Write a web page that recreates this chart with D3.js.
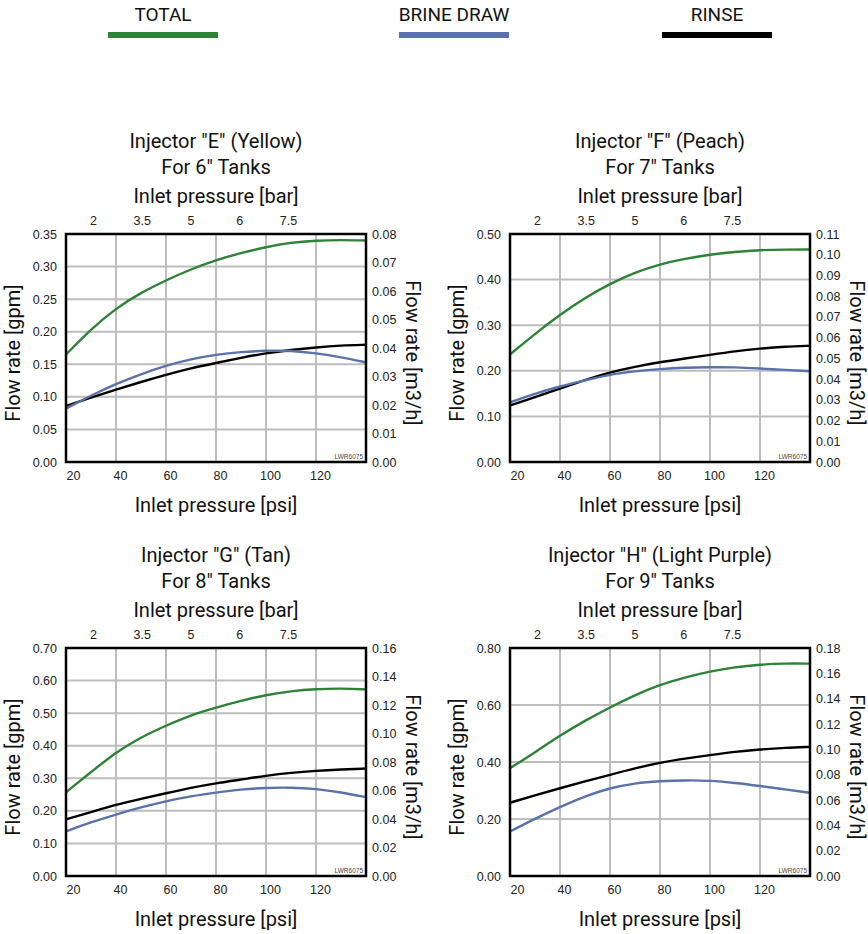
<!DOCTYPE html>
<html>
<head>
<meta charset="utf-8">
<script src="https://cdn.jsdelivr.net/npm/d3@7"></script>
<style>
  body { margin: 0; background: #fff; }
  svg { display: block; }
</style>
</head>
<body>
<svg id="svg" width="868" height="934"></svg>
<script>
// inlet pressure samples (psi) used by every curve
var psi = [20, 30, 40, 50, 60, 70, 80, 90, 100, 110, 120, 130, 140];
var psiTicks = [20, 40, 60, 80, 100, 120];
var barTicks = ["2", "3.5", "5", "6", "7.5"];

var seriesNames = ["TOTAL", "BRINE DRAW", "RINSE"];
var seriesColors = ["#2e8236", "#5a72aa", "#000000"];

// Injector "E"
var totalE = [0.165, 0.204, 0.236, 0.260, 0.279, 0.296, 0.310, 0.321, 0.330, 0.337, 0.340, 0.341, 0.340];
var brineE = [0.082, 0.102, 0.120, 0.135, 0.148, 0.158, 0.165, 0.169, 0.171, 0.171, 0.167, 0.161, 0.153];
var rinseE = [0.086, 0.099, 0.111, 0.123, 0.134, 0.144, 0.152, 0.160, 0.167, 0.172, 0.176, 0.179, 0.180];
var gpmTicksE = [0, 0.05, 0.10, 0.15, 0.20, 0.25, 0.30, 0.35];
var m3hTicksE = [0, 0.01, 0.02, 0.03, 0.04, 0.05, 0.06, 0.07, 0.08];

// Injector "F"
var totalF = [0.236, 0.281, 0.323, 0.360, 0.391, 0.416, 0.434, 0.446, 0.455, 0.461, 0.465, 0.466, 0.466];
var brineF = [0.131, 0.150, 0.166, 0.179, 0.192, 0.199, 0.204, 0.207, 0.208, 0.208, 0.205, 0.202, 0.199];
var rinseF = [0.124, 0.142, 0.161, 0.180, 0.197, 0.209, 0.219, 0.227, 0.235, 0.243, 0.249, 0.253, 0.255];
var gpmTicksF = [0, 0.10, 0.20, 0.30, 0.40, 0.50];
var m3hTicksF = [0, 0.01, 0.02, 0.03, 0.04, 0.05, 0.06, 0.07, 0.08, 0.09, 0.10, 0.11];

// Injector "G"
var totalG = [0.257, 0.319, 0.380, 0.426, 0.462, 0.494, 0.517, 0.538, 0.556, 0.568, 0.574, 0.576, 0.573];
var brineG = [0.137, 0.165, 0.189, 0.211, 0.230, 0.245, 0.256, 0.266, 0.271, 0.272, 0.268, 0.257, 0.242];
var rinseG = [0.174, 0.196, 0.219, 0.237, 0.254, 0.271, 0.285, 0.296, 0.308, 0.317, 0.323, 0.327, 0.330];
var gpmTicksG = [0, 0.10, 0.20, 0.30, 0.40, 0.50, 0.60, 0.70];
var m3hTicksG = [0, 0.02, 0.04, 0.06, 0.08, 0.10, 0.12, 0.14, 0.16];

// Injector "H"
var totalH = [0.378, 0.434, 0.493, 0.545, 0.592, 0.635, 0.672, 0.697, 0.718, 0.733, 0.742, 0.746, 0.745];
var brineH = [0.156, 0.201, 0.242, 0.280, 0.309, 0.326, 0.333, 0.336, 0.335, 0.327, 0.316, 0.304, 0.292];
var rinseH = [0.257, 0.283, 0.308, 0.332, 0.355, 0.378, 0.398, 0.412, 0.424, 0.436, 0.444, 0.450, 0.453];
var gpmTicksH = [0, 0.20, 0.40, 0.60, 0.80];
var m3hTicksH = [0, 0.02, 0.04, 0.06, 0.08, 0.10, 0.12, 0.14, 0.16, 0.18];

var titlesE = ['Injector "E" (Yellow)', 'For 6" Tanks'];
var titlesF = ['Injector "F" (Peach)', 'For 7" Tanks'];
var titlesG = ['Injector "G" (Tan)', 'For 8" Tanks'];
var titlesH = ['Injector "H" (Light Purple)', 'For 9" Tanks'];

var svg = d3.select("#svg");
var titleFont = "Roboto, 'DejaVu Sans', sans-serif";
var tickFont = "'Liberation Sans', Arial, sans-serif";

// legend across the top
var legendX = d3.scaleOrdinal().domain(seriesNames).range([163, 454, 717]);
var legend = svg.append("g");
seriesNames.forEach(function(name, i) {
  var cx = legendX(name);
  legend.append("text")
    .attr("x", cx).attr("y", 21)
    .attr("text-anchor", "middle")
    .attr("font-family", titleFont)
    .attr("font-size", 19)
    .attr("fill", "#111")
    .text(name);
  legend.append("rect")
    .attr("x", cx - 55).attr("y", 32)
    .attr("width", 110).attr("height", 6)
    .attr("fill", seriesColors[i]);
});

var panels = [
  { titles: titlesE, series: [totalE, brineE, rinseE], gpm: gpmTicksE, m3h: m3hTicksE, left: 66,  top: 234 },
  { titles: titlesF, series: [totalF, brineF, rinseF], gpm: gpmTicksF, m3h: m3hTicksF, left: 510, top: 234 },
  { titles: titlesG, series: [totalG, brineG, rinseG], gpm: gpmTicksG, m3h: m3hTicksG, left: 66,  top: 648 },
  { titles: titlesH, series: [totalH, brineH, rinseH], gpm: gpmTicksH, m3h: m3hTicksH, left: 510, top: 648 }
];

var plotW = 300, plotH = 228;

panels.forEach(function(p) {
  var g = svg.append("g").attr("transform", "translate(" + p.left + "," + p.top + ")");

  var x = d3.scaleLinear().domain([20, 140]).range([0, plotW]);
  var y = d3.scaleLinear().domain([0, d3.max(p.gpm)]).range([plotH, 0]);
  var y2 = d3.scaleLinear().domain([0, d3.max(p.m3h)]).range([plotH, 0]);

  // grid
  g.append("g").selectAll("line")
    .data(psiTicks.slice(1))
    .enter().append("line")
      .attr("x1", function(d) { return x(d); }).attr("x2", function(d) { return x(d); })
      .attr("y1", 0).attr("y2", plotH)
      .attr("stroke", "#bdbdbd").attr("stroke-width", 2);
  g.append("g").selectAll("line")
    .data(p.gpm.slice(1, -1))
    .enter().append("line")
      .attr("x1", 0).attr("x2", plotW)
      .attr("y1", function(d) { return y(d); }).attr("y2", function(d) { return y(d); })
      .attr("stroke", "#bdbdbd").attr("stroke-width", 2);

  // curves: total, rinse, brine draw on top
  var line = d3.line()
    .x(function(d, i) { return x(psi[i]); })
    .y(function(d) { return y(d); })
    .curve(d3.curveBasis);
  [0, 2, 1].forEach(function(k) {
    g.append("path")
      .attr("d", line(p.series[k]))
      .attr("fill", "none")
      .attr("stroke", seriesColors[k])
      .attr("stroke-width", 2.4);
  });

  // frame
  g.append("rect")
    .attr("x", 0).attr("y", 0).attr("width", plotW).attr("height", plotH)
    .attr("fill", "none").attr("stroke", "#000").attr("stroke-width", 2.5);

  g.append("text")
    .attr("x", plotW - 3).attr("y", plotH - 3)
    .attr("text-anchor", "end")
    .attr("font-family", tickFont).attr("font-size", 6.5)
    .attr("fill", "#444")
    .text("LWR6075");

  // left axis (gpm)
  var yAxis = d3.axisLeft(y).tickValues(p.gpm).tickFormat(d3.format(".2f")).tickSize(0).tickPadding(9);
  var ga = g.append("g").call(yAxis);
  ga.select(".domain").remove();
  ga.selectAll("text").attr("font-family", tickFont).attr("font-size", 12.5).attr("fill", "#222");

  // right axis (m3/h)
  var y2Axis = d3.axisRight(y2).tickValues(p.m3h).tickFormat(d3.format(".2f")).tickSize(0).tickPadding(6);
  var gb = g.append("g").attr("transform", "translate(" + plotW + ",0)").call(y2Axis);
  gb.select(".domain").remove();
  gb.selectAll("text").attr("font-family", tickFont).attr("font-size", 12.5).attr("fill", "#222");

  // bottom axis (psi)
  var xAxis = d3.axisBottom(x).tickValues(psiTicks).tickSize(0).tickPadding(9);
  var gc = g.append("g").attr("transform", "translate(0," + plotH + ")").call(xAxis);
  gc.select(".domain").remove();
  gc.selectAll("text").attr("font-family", tickFont).attr("font-size", 12.5).attr("fill", "#222")
    .attr("dx", function(d) { return d === 20 ? 7 : 4; });

  // top axis (bar), labels evenly spread as in the original chart
  var xBar = d3.scalePoint().domain(barTicks).range([27, 222]);
  var xTopAxis = d3.axisTop(xBar).tickSize(0).tickPadding(9);
  var gd = g.append("g").call(xTopAxis);
  gd.select(".domain").remove();
  gd.selectAll("text").attr("font-family", tickFont).attr("font-size", 12.5).attr("fill", "#222");

  // titles and axis labels
  var cx = plotW / 2;
  var lab = function(tx, ty, str, rot) {
    var t = g.append("text")
      .attr("text-anchor", "middle")
      .attr("font-family", titleFont)
      .attr("font-size", 20)
      .attr("fill", "#111")
      .text(str);
    if (rot) t.attr("transform", "translate(" + tx + "," + ty + ") rotate(" + rot + ")");
    else t.attr("x", tx).attr("y", ty);
  };
  lab(cx, -86, p.titles[0]);
  lab(cx, -60, p.titles[1]);
  lab(cx, -31, "Inlet pressure [bar]");
  lab(cx, plotH + 50, "Inlet pressure [psi]");
  lab(-46, plotH / 2 + 5, "Flow rate [gpm]", -90);
  lab(plotW + 40, plotH / 2 + 5, "Flow rate [m3/h]", 90);
});
</script>
</body>
</html>
